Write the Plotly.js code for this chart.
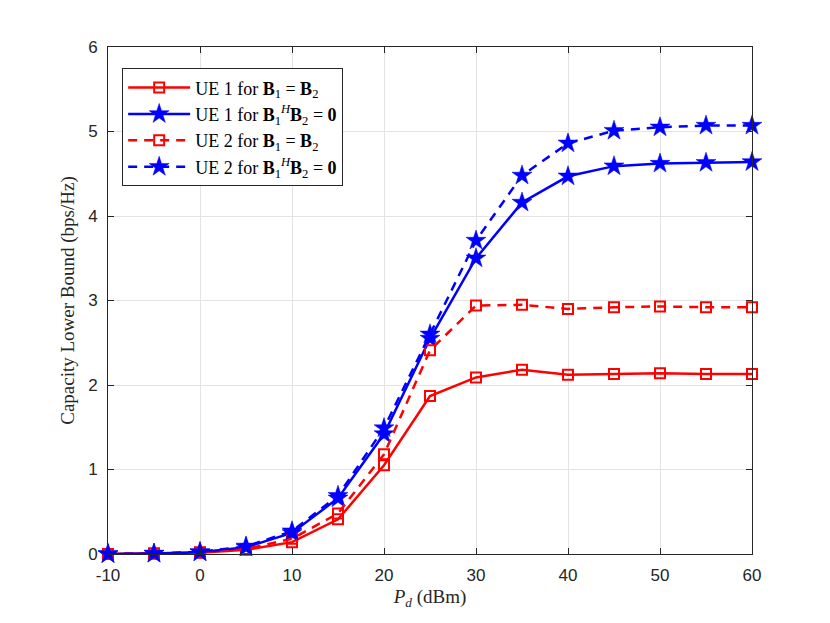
<!DOCTYPE html>
<html>
<head>
<meta charset="utf-8">
<script src="https://cdn.plot.ly/plotly-3.0.1.min.js"></script>
<style>
  html, body { margin: 0; padding: 0; background: #fff; }
  #grafico { width: 830px; height: 623px; }
</style>
</head>
<body>
<div id="grafico"></div>
<script>
// potência Pd em dBm
var potencias = [-10, -5, 0, 5, 10, 15, 20, 25, 30, 35, 40, 45, 50, 55, 60];

// capacidade (bps/Hz)
var ue1Iguais = [0.0, 0.005, 0.015, 0.05, 0.14, 0.41, 1.05, 1.87, 2.09, 2.18, 2.12, 2.13, 2.14, 2.13, 2.13];
var ue1Ortog  = [0.0, 0.005, 0.02, 0.08, 0.25, 0.66, 1.42, 2.55, 3.50, 4.16, 4.47, 4.59, 4.62, 4.63, 4.64];
var ue2Iguais = [0.0, 0.005, 0.02, 0.06, 0.18, 0.48, 1.18, 2.41, 2.94, 2.95, 2.90, 2.92, 2.93, 2.92, 2.92];
var ue2Ortog  = [0.0, 0.005, 0.025, 0.09, 0.27, 0.69, 1.49, 2.60, 3.71, 4.48, 4.86, 5.01, 5.05, 5.07, 5.07];

var nomes = [
  'UE 1 for <b>B</b><sub>1</sub> = <b>B</b><sub>2</sub>',
  'UE 1 for <b>B</b><sub>1</sub><sup><i>H</i></sup><b>B</b><sub>2</sub> = <b>0</b>',
  'UE 2 for <b>B</b><sub>1</sub> = <b>B</b><sub>2</sub>',
  'UE 2 for <b>B</b><sub>1</sub><sup><i>H</i></sup><b>B</b><sub>2</sub> = <b>0</b>'
];

var vermelho = '#ff0000', azul = '#0000ff';

function serie(y, nome, cor, tracejado, simbolo) {
  var quadrado = simbolo === 'square-open';
  return {
    type: 'scatter',
    mode: 'lines+markers',
    x: potencias,
    y: y,
    name: nome,
    line: { color: cor, width: 2.5, dash: tracejado ? '9px,7px' : 'solid' },
    marker: {
      symbol: simbolo,
      size: quadrado ? 10 : 15,
      color: cor,
      line: { color: cor, width: quadrado ? 2 : 0.5 }
    },
    cliponaxis: false
  };
}

var data = [
  serie(ue1Iguais, nomes[0], vermelho, false, 'square-open'),
  serie(ue1Ortog,  nomes[1], azul,     false, 'star'),
  serie(ue2Iguais, nomes[2], vermelho, true,  'square-open'),
  serie(ue2Ortog,  nomes[3], azul,     true,  'star')
];

var corEixo = '#262626';
var corGrade = '#e3e3e3';

var layout = {
  width: 830,
  height: 623,
  paper_bgcolor: '#ffffff',
  plot_bgcolor: '#ffffff',
  margin: { l: 108, r: 78, t: 47, b: 69 },
  showlegend: true,
  legend: {
    x: 0.022, y: 0.958,
    xanchor: 'left', yanchor: 'top',
    bgcolor: '#ffffff',
    bordercolor: '#262626',
    borderwidth: 1,
    itemwidth: 62,
    tracegroupgap: 0,
    font: { family: 'Liberation Serif, DejaVu Serif, serif', size: 18, color: '#000' }
  },
  xaxis: {
    range: [-10, 60],
    tickvals: [-10, 0, 10, 20, 30, 40, 50, 60],
    ticktext: ['-10', '0', '10', '20', '30', '40', '50', '60'],
    ticks: 'inside', ticklen: 6, tickcolor: corEixo,
    ticklabelstandoff: 6,
    showline: true, linecolor: corEixo, linewidth: 1, mirror: 'ticks',
    showgrid: true, gridcolor: corGrade, gridwidth: 1,
    zeroline: false,
    tickfont: { family: 'Liberation Sans, Arial, sans-serif', size: 17, color: corEixo },
    title: {
      text: '<i>P</i><sub><i>d</i></sub> (dBm)',
      font: { family: 'Liberation Serif, DejaVu Serif, serif', size: 19, color: corEixo },
      standoff: 5
    }
  },
  yaxis: {
    range: [0, 6],
    tickvals: [0, 1, 2, 3, 4, 5, 6],
    ticks: 'inside', ticklen: 6, tickcolor: corEixo,
    ticklabelstandoff: 6,
    showline: true, linecolor: corEixo, linewidth: 1, mirror: 'ticks',
    showgrid: true, gridcolor: corGrade, gridwidth: 1,
    zeroline: false,
    tickfont: { family: 'Liberation Sans, Arial, sans-serif', size: 17, color: corEixo },
    title: {
      text: 'Capacity Lower Bound (bps/Hz)',
      font: { family: 'Liberation Serif, DejaVu Serif, serif', size: 19, color: corEixo },
      standoff: 8
    }
  }
};

Plotly.newPlot('grafico', data, layout, { displayModeBar: false, staticPlot: true });
</script>
</body>
</html>
